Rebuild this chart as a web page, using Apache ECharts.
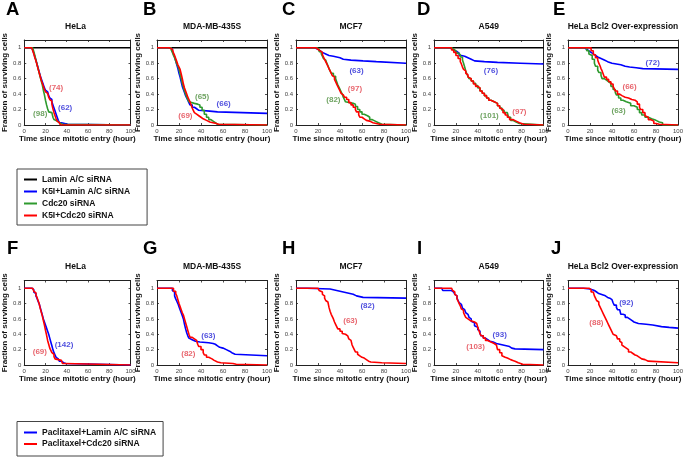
<!DOCTYPE html>
<html>
<head>
<meta charset="utf-8">
<script src="https://cdn.jsdelivr.net/npm/echarts@6/dist/echarts.min.js"></script>
<style>html,body{margin:0;padding:0;background:#fff;}#c{width:686px;height:459px;}</style>
</head>
<body>
<div id="c"></div>
<script>
// ---------------- DATA ----------------
const panelLetters = ['A','B','C','D','E','F','G','H','I','J'];
const panelTitles = ['HeLa','MDA-MB-435S','MCF7','A549','HeLa Bcl2 Over-expression',
                     'HeLa','MDA-MB-435S','MCF7','A549','HeLa Bcl2 Over-expression'];
const row1Names = ['Lamin A/C siRNA','K5I+Lamin A/C siRNA','Cdc20 siRNA','K5I+Cdc20 siRNA'];
const row2Names = ['Paclitaxel+Lamin A/C siRNA','Paclitaxel+Cdc20 siRNA'];
const xAxisName = 'Time since mitotic entry (hour)';
const yAxisName = 'Fraction of surviving cells';

// Panel A - HeLa
const aBlack = [[0,1],[100,1]];
const aBlue = [[0,1],[7,1],[8,0.97],[9,0.93],[10,0.88],[11,0.84],[12,0.79],[13,0.74],[14,0.69],[15,0.64],[16,0.6],[17,0.56],[18,0.52],[19,0.48],[20,0.45],[21,0.43],[22,0.41],[23,0.38],[24,0.35],[25,0.33],[26,0.3],[27,0.26],[28,0.22],[29,0.18],[30,0.14],[31,0.1],[32,0.06],[33,0.03],[35,0.02],[38,0.01],[41,0],[100,0]];
const aGreen = [[0,1],[8,1],[9,0.95],[10,0.9],[11,0.84],[12,0.79],[13,0.73],[14,0.68],[15,0.62],[16,0.57],[17,0.52],[18,0.45],[19,0.39],[20,0.32],[21,0.26],[22,0.21],[23,0.17],[24,0.16],[26,0.14],[27,0.1],[28,0.07],[29,0.05],[31,0.03],[33,0.01],[36,0],[100,0]];
const aRed = [[0,1],[7,1],[8,0.96],[9,0.92],[10,0.87],[11,0.83],[12,0.78],[13,0.73],[14,0.68],[15,0.63],[16,0.58],[17,0.54],[18,0.5],[19,0.46],[20,0.43],[21,0.41],[22,0.39],[23,0.36],[24,0.33],[25,0.31],[26,0.27],[27,0.21],[28,0.16],[29,0.12],[30,0.08],[31,0.05],[32,0.03],[33,0.01],[34,0],[100,0]];
const aCounts = [[1,38.5,0.22,'(62)'],[2,15,0.14,'(98)'],[3,30,0.48,'(74)']];

// Panel B - MDA-MB-435S
const bBlack = [[0,1],[100,1]];
const bBlue = [[0,1],[10,1],[12,0.98],[14,0.95],[15,0.92],[16,0.88],[17,0.83],[18,0.78],[19,0.73],[20,0.67],[21,0.62],[22,0.56],[23,0.5],[24,0.46],[25,0.42],[26,0.38],[27,0.35],[28,0.32],[29,0.29],[30,0.26],[32,0.23],[34,0.21],[36,0.19],[38,0.18],[48,0.17],[55,0.15],[100,0.15]];
const bGreen = [[0,1],[11,1],[13,0.97],[14,0.94],[15,0.9],[16,0.87],[17,0.83],[18,0.79],[19,0.76],[20,0.72],[21,0.66],[22,0.6],[23,0.54],[24,0.49],[25,0.44],[26,0.4],[27,0.36],[28,0.33],[29,0.3],[30,0.28],[34,0.27],[37,0.26],[39,0.23],[41,0.19],[43,0.14],[45,0.1],[47,0.07],[49,0.05],[51,0.03],[53,0.01],[55,0],[100,0]];
const bRed = [[0,1],[11,1],[12,0.98],[14,0.96],[15,0.93],[16,0.9],[17,0.86],[18,0.82],[19,0.78],[20,0.75],[21,0.72],[22,0.66],[23,0.6],[24,0.53],[25,0.48],[26,0.44],[27,0.4],[28,0.36],[29,0.33],[30,0.3],[31,0.26],[32,0.22],[33,0.19],[34,0.16],[35,0.14],[36,0.12],[38,0.1],[40,0.08],[42,0.06],[45,0.04],[48,0.03],[51,0.02],[54,0.01],[56,0],[100,0]];
const bCounts = [[1,60.6,0.27,'(66)'],[2,41,0.36,'(65)'],[3,25.8,0.12,'(69)']];

// Panel C - MCF7
const cBlack = [[0,1],[100,1]];
const cBlue = [[0,1],[17,1],[18,0.98],[20,0.96],[22,0.94],[24,0.92],[27,0.9],[30,0.89],[34,0.88],[37,0.87],[40,0.85],[43,0.84],[50,0.83],[61,0.82],[73,0.8],[100,0.8]];
const cGreen = [[0,1],[17,1],[19,0.98],[21,0.95],[23,0.92],[24,0.89],[25,0.86],[26,0.84],[27,0.82],[28,0.8],[29,0.77],[30,0.73],[31,0.7],[32,0.67],[34,0.63],[36,0.6],[37,0.56],[38,0.52],[39,0.49],[40,0.46],[41,0.43],[42,0.4],[43,0.36],[44,0.33],[45,0.3],[46,0.28],[52,0.27],[54,0.24],[56,0.2],[58,0.17],[60,0.14],[62,0.12],[65,0.1],[67,0.07],[69,0.05],[72,0.03],[75,0.01],[78,0],[100,0]];
const cRed = [[0,1],[16,1],[18,0.98],[20,0.96],[22,0.94],[24,0.91],[25,0.88],[26,0.85],[27,0.82],[28,0.79],[29,0.76],[30,0.73],[31,0.7],[32,0.67],[33,0.64],[34,0.62],[35,0.59],[36,0.56],[37,0.53],[38,0.5],[39,0.47],[40,0.44],[41,0.41],[42,0.39],[43,0.37],[44,0.36],[46,0.33],[48,0.29],[50,0.26],[52,0.23],[54,0.2],[55,0.17],[57,0.13],[58,0.1],[60,0.08],[62,0.06],[64,0.05],[67,0.03],[70,0.02],[73,0.01],[76,0],[100,0]];
const cCounts = [[1,55,0.70,'(63)'],[2,34,0.32,'(82)'],[3,53.6,0.47,'(97)']];

// Panel D - A549
const dBlack = [[0,1],[100,1]];
const dBlue = [[0,1],[13,1],[15,0.98],[17,0.96],[19,0.95],[21,0.93],[23,0.9],[25,0.89],[28,0.87],[31,0.85],[34,0.83],[37,0.82],[46,0.81],[58,0.8],[79,0.79],[100,0.79]];
const dGreen = [[0,1],[14,1],[16,0.98],[18,0.96],[20,0.93],[22,0.91],[24,0.88],[26,0.84],[27,0.8],[28,0.75],[29,0.7],[30,0.66],[31,0.63],[32,0.6],[34,0.57],[36,0.54],[38,0.51],[40,0.48],[42,0.44],[44,0.41],[46,0.38],[48,0.35],[50,0.32],[52,0.3],[55,0.28],[58,0.25],[60,0.22],[62,0.19],[64,0.16],[67,0.15],[68,0.1],[70,0.06],[72,0.04],[75,0.02],[78,0],[100,0]];
const dRed = [[0,1],[14,1],[16,0.97],[18,0.94],[20,0.9],[22,0.86],[24,0.82],[25,0.79],[26,0.75],[27,0.72],[28,0.7],[29,0.67],[30,0.65],[31,0.62],[32,0.6],[34,0.57],[36,0.53],[38,0.5],[40,0.48],[42,0.44],[44,0.41],[46,0.38],[48,0.35],[50,0.32],[52,0.3],[55,0.28],[58,0.25],[60,0.22],[61,0.2],[63,0.16],[65,0.13],[67,0.1],[69,0.07],[72,0.05],[75,0.03],[78,0.01],[82,0],[100,0]];
const dCounts = [[1,52,0.70,'(76)'],[2,50.6,0.12,'(101)'],[3,78,0.17,'(97)']];

// Panel E - HeLa Bcl2 Over-expression
const eBlack = [[0,1],[100,1]];
const eBlue = [[0,1],[13,1],[15,0.98],[17,0.96],[19,0.94],[21,0.92],[23,0.9],[25,0.88],[27,0.86],[30,0.84],[33,0.82],[36,0.8],[40,0.79],[44,0.78],[48,0.76],[52,0.75],[56,0.74],[62,0.73],[68,0.72],[100,0.72]];
const eGreen = [[0,1],[15,1],[17,0.96],[19,0.92],[20,0.9],[22,0.85],[24,0.8],[25,0.76],[27,0.71],[28,0.68],[30,0.64],[31,0.6],[33,0.58],[35,0.56],[37,0.54],[39,0.5],[41,0.46],[43,0.42],[44,0.39],[46,0.35],[48,0.32],[50,0.3],[53,0.28],[57,0.25],[60,0.23],[63,0.2],[65,0.16],[67,0.13],[70,0.1],[73,0.08],[76,0.06],[80,0.04],[83,0.03],[86,0],[100,0]];
const eRed = [[0,1],[19,1],[21,0.96],[23,0.91],[25,0.87],[27,0.84],[28,0.8],[29,0.77],[30,0.73],[31,0.7],[32,0.66],[33,0.62],[35,0.59],[37,0.56],[39,0.53],[41,0.5],[42,0.47],[43,0.44],[45,0.4],[47,0.38],[49,0.36],[52,0.35],[55,0.33],[58,0.32],[61,0.3],[63,0.27],[65,0.23],[66,0.2],[68,0.16],[70,0.12],[71,0.1],[73,0.07],[75,0.05],[78,0.02],[80,0.01],[83,0],[100,0]];
const eCounts = [[1,77,0.80,'(72)'],[2,46,0.19,'(63)'],[3,56,0.50,'(66)']];

// Panel F - HeLa (paclitaxel)
const fBlue = [[0,1],[7,1],[8,0.98],[9,0.95],[10,0.93],[11,0.9],[12,0.87],[13,0.83],[14,0.8],[15,0.75],[16,0.7],[17,0.65],[18,0.6],[19,0.56],[20,0.52],[21,0.48],[22,0.44],[23,0.4],[24,0.35],[25,0.3],[26,0.25],[27,0.2],[28,0.16],[29,0.13],[30,0.1],[31,0.08],[32,0.06],[33,0.05],[35,0.03],[37,0.02],[39,0],[100,0]];
const fRed = [[0,1],[8,1],[9,0.96],[10,0.94],[11,0.91],[12,0.88],[13,0.84],[14,0.8],[15,0.74],[16,0.69],[17,0.64],[18,0.58],[19,0.52],[20,0.45],[21,0.39],[22,0.32],[23,0.27],[24,0.22],[25,0.19],[26,0.16],[27,0.14],[28,0.11],[29,0.08],[30,0.06],[35,0.05],[36,0.02],[38,0],[100,0]];
const fCounts = [[0,37.4,0.26,'(142)'],[1,14.7,0.17,'(69)']];

// Panel G - MDA-MB-435S (paclitaxel)
const gBlue = [[0,1],[12,1],[14,0.97],[15,0.95],[16,0.9],[17,0.86],[18,0.83],[19,0.8],[20,0.76],[21,0.72],[22,0.68],[23,0.64],[24,0.6],[25,0.53],[26,0.47],[27,0.42],[28,0.38],[29,0.35],[30,0.33],[32,0.31],[35,0.3],[39,0.29],[47,0.28],[51,0.27],[53,0.25],[55,0.23],[57,0.22],[60,0.2],[63,0.18],[66,0.16],[68,0.14],[71,0.12],[100,0.12]];
const gRed = [[0,1],[13,1],[15,0.96],[17,0.93],[18,0.9],[19,0.85],[20,0.8],[21,0.76],[22,0.72],[23,0.68],[24,0.65],[25,0.6],[26,0.55],[27,0.5],[28,0.45],[29,0.4],[30,0.36],[32,0.34],[34,0.32],[36,0.3],[37,0.27],[38,0.24],[40,0.2],[42,0.16],[43,0.13],[45,0.1],[47,0.08],[50,0.06],[52,0.04],[55,0.03],[58,0.02],[69,0.01],[72,0],[100,0]];
const gCounts = [[0,46.7,0.38,'(63)'],[1,28.5,0.15,'(82)']];

// Panel H - MCF7 (paclitaxel)
const hBlue = [[0,1],[10,1],[11,0.99],[31,0.98],[34,0.97],[37,0.96],[40,0.95],[43,0.94],[46,0.93],[49,0.92],[52,0.9],[55,0.89],[58,0.88],[61,0.87],[100,0.87]];
const hRed = [[0,1],[20,1],[21,0.97],[22,0.95],[24,0.92],[25,0.9],[26,0.87],[27,0.84],[28,0.82],[29,0.8],[30,0.75],[31,0.7],[32,0.66],[33,0.63],[34,0.6],[35,0.56],[36,0.53],[37,0.5],[38,0.47],[40,0.44],[42,0.41],[43,0.4],[45,0.38],[47,0.36],[48,0.34],[49,0.32],[50,0.3],[51,0.26],[52,0.23],[53,0.2],[54,0.17],[56,0.14],[57,0.12],[58,0.1],[60,0.09],[62,0.07],[64,0.05],[66,0.04],[68,0.03],[78,0.02],[100,0.02]];
const hCounts = [[0,65,0.77,'(82)'],[1,49.4,0.58,'(63)']];

// Panel I - A549 (paclitaxel)
const iBlue = [[0,1],[7,1],[8,0.97],[16,0.96],[17,0.95],[18,0.93],[19,0.92],[20,0.9],[21,0.87],[22,0.84],[23,0.81],[24,0.79],[25,0.77],[26,0.74],[27,0.72],[28,0.7],[29,0.68],[30,0.66],[31,0.64],[32,0.62],[33,0.6],[34,0.57],[35,0.55],[37,0.51],[38,0.49],[40,0.46],[41,0.44],[42,0.41],[43,0.38],[45,0.35],[47,0.33],[49,0.31],[51,0.3],[54,0.28],[57,0.27],[60,0.26],[63,0.25],[66,0.24],[69,0.22],[71,0.21],[74,0.2],[100,0.2]];
const iRed = [[0,1],[16,1],[17,0.97],[18,0.95],[19,0.92],[20,0.9],[21,0.86],[22,0.83],[23,0.8],[24,0.77],[25,0.73],[26,0.71],[27,0.68],[28,0.65],[29,0.62],[30,0.6],[31,0.58],[33,0.57],[35,0.56],[37,0.54],[39,0.52],[40,0.49],[41,0.45],[42,0.41],[43,0.38],[45,0.35],[47,0.32],[49,0.3],[52,0.28],[55,0.26],[57,0.25],[58,0.2],[60,0.16],[62,0.12],[63,0.1],[65,0.09],[67,0.07],[70,0.06],[72,0.05],[74,0.03],[77,0.02],[79,0.01],[81,0],[100,0]];
const iCounts = [[0,60,0.39,'(93)'],[1,38,0.24,'(103)']];

// Panel J - HeLa Bcl2 Over-expression (paclitaxel)
const jBlue = [[0,1],[12,1],[14,0.99],[20,0.98],[22,0.97],[24,0.95],[26,0.93],[28,0.92],[30,0.91],[32,0.9],[34,0.88],[36,0.87],[38,0.85],[40,0.83],[41,0.81],[42,0.78],[44,0.75],[45,0.72],[47,0.7],[48,0.66],[50,0.65],[52,0.62],[54,0.6],[56,0.58],[58,0.56],[60,0.55],[62,0.54],[64,0.53],[71,0.52],[77,0.5],[85,0.49],[92,0.48],[100,0.48]];
const jRed = [[0,1],[17,1],[19,0.98],[21,0.95],[23,0.93],[24,0.9],[25,0.87],[26,0.84],[27,0.82],[28,0.79],[29,0.76],[30,0.73],[31,0.7],[32,0.67],[33,0.64],[34,0.61],[35,0.58],[36,0.55],[37,0.52],[38,0.49],[39,0.46],[40,0.43],[41,0.4],[42,0.38],[44,0.36],[45,0.34],[47,0.31],[48,0.29],[49,0.26],[50,0.24],[51,0.22],[53,0.2],[55,0.17],[57,0.15],[59,0.13],[61,0.12],[63,0.1],[65,0.08],[67,0.07],[70,0.05],[73,0.03],[100,0.03]];
const jCounts = [[0,53,0.81,'(92)'],[1,25.8,0.55,'(88)']];

const xRange = [0, 100], xStep = 20;
const yRange = [0, 1.1], yStep = 0.2;

// ---------------- BUILD ----------------
const panelCurves = [
  [aBlack,aBlue,aGreen,aRed],[bBlack,bBlue,bGreen,bRed],[cBlack,cBlue,cGreen,cRed],
  [dBlack,dBlue,dGreen,dRed],[eBlack,eBlue,eGreen,eRed],
  [fBlue,fRed],[gBlue,gRed],[hBlue,hRed],[iBlue,iRed],[jBlue,jRed]
];
const panelCounts = [aCounts,bCounts,cCounts,dCounts,eCounts,fCounts,gCounts,hCounts,iCounts,jCounts];

const FONT = 'Liberation Sans';
const row1Colors = ['#000000','#0000ff','#2e9a2e','#ff0000'];
const row2Colors = ['#0000ff','#ff0000'];
const row1LabelColors = ['#000000','#2323d6','#4a8c3a','#e2404a'];
const row2LabelColors = ['#2323d6','#e2404a'];

const gridLefts = [20.5, 157, 296, 434, 568];
const gridWidths = [110, 110, 110, 109.5, 110];
const rowTops = [40, 280.5];
const rowHeights = [85, 84.5];
const titleTops = [22.5, 262.5];
const letterTops = [0.5, 239];
const letterLefts = [[6,143,282,417,553],[7,143,282,417,551]];

const grids = [], xAxes = [], yAxes = [], series = [], titles = [];
const axisLineStyle = {color:'#222', width:1};

for (let p = 0; p < 10; p++) {
  const row = p < 5 ? 0 : 1, col = p % 5;
  const left = gridLefts[col], width = gridWidths[col];
  grids.push({left, top: rowTops[row], width, height: rowHeights[row], containLabel:false});
  const common = {gridIndex:p, type:'value', splitLine:{show:false},
    axisLine:{show:true, onZero:false, lineStyle:axisLineStyle},
    axisTick:{show:true, inside:true, length:2, lineStyle:{color:'#222', width:0.8}}};
  xAxes.push(Object.assign({}, common, {position:'bottom', min:xRange[0], max:xRange[1], interval:xStep,
    axisLabel:{fontSize:6, color:'#444', margin:3, fontFamily:FONT},
    name:xAxisName, nameLocation:'middle', nameGap:8,
    nameTextStyle:{fontSize:8, fontWeight:'bold', color:'#111', fontFamily:FONT}}));
  xAxes.push(Object.assign({}, common, {position:'top', min:xRange[0], max:xRange[1], interval:xStep,
    axisLabel:{show:false}}));
  yAxes.push(Object.assign({}, common, {position:'left', min:yRange[0], max:yRange[1], interval:yStep,
    axisLabel:{fontSize:6, color:'#444', margin:3, fontFamily:FONT,
      formatter: v => v > 1.05 ? '' : String(+v.toFixed(1))},
    name:yAxisName, nameLocation:'middle', nameGap:11,
    nameTextStyle:{fontSize:8, fontWeight:'bold', color:'#111', fontFamily:FONT}}));
  yAxes.push(Object.assign({}, common, {position:'right', min:yRange[0], max:yRange[1], interval:yStep,
    axisLabel:{show:false}}));

  const names = row === 0 ? row1Names : row2Names;
  const colors = row === 0 ? row1Colors : row2Colors;
  const lcolors = row === 0 ? row1LabelColors : row2LabelColors;
  panelCurves[p].forEach((d, k) => {
    series.push({type:'line', name:names[k], xAxisIndex:2*p, yAxisIndex:2*p, data:d,
      step:'end', symbol:'none', showSymbol:false, silent:true,
      lineStyle:{color:colors[k], width:1.6}, itemStyle:{color:colors[k]}, z:2+k});
  });
  panelCounts[p].forEach(c => {
    series.push({type:'scatter', xAxisIndex:2*p, yAxisIndex:2*p, silent:true, symbolSize:1,
      itemStyle:{color:'rgba(0,0,0,0)'}, z:10,
      data:[{value:[c[1], c[2]], name:c[3]}],
      label:{show:true, position:'inside', formatter:'{b}', color:lcolors[c[0]],
        fontSize:8, fontWeight:'bold', fontFamily:FONT}});
  });

  titles.push({text:panelTitles[p], left:left + width/2, top:titleTops[row], textAlign:'center', padding:0,
    textStyle:{fontSize:8.5, fontWeight:'bold', color:'#111', fontFamily:FONT}});
  titles.push({text:panelLetters[p], left:letterLefts[row][col], top:letterTops[row], padding:0,
    textStyle:{fontSize:18.5, fontWeight:'bold', color:'#000', fontFamily:FONT}});
}

const chart = echarts.init(document.getElementById('c'), null, {renderer:'canvas'});
chart.setOption({
  backgroundColor:'#fff',
  animation:false,
  title: titles,
  grid: grids,
  xAxis: xAxes,
  yAxis: yAxes,
  legend: [
    {data: row1Names, orient:'vertical', left:17, top:169, padding:[6,17,5,7],
     itemWidth:13, itemHeight:2, itemGap:3, icon:'rect', selectedMode:false,
     borderColor:'#444', borderWidth:1,
     textStyle:{fontSize:8.5, fontWeight:'bold', color:'#111', lineHeight:9, fontFamily:FONT}},
    {data: row2Names, orient:'vertical', left:17, top:421.5, padding:[6,7,7,7],
     itemWidth:13, itemHeight:2, itemGap:1.5, icon:'rect', selectedMode:false,
     borderColor:'#444', borderWidth:1,
     textStyle:{fontSize:8.5, fontWeight:'bold', color:'#111', lineHeight:10, fontFamily:FONT}}
  ],
  series
});
</script>
</body>
</html>
